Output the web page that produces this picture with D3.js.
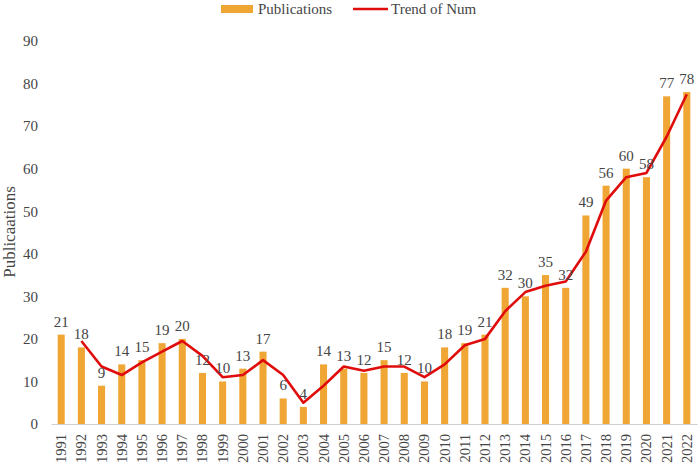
<!DOCTYPE html>
<html>
<head>
<meta charset="utf-8">
<script src="https://cdn.jsdelivr.net/npm/d3@7"></script>
<style>
body{margin:0;background:#fff;}
text{font-family:"Liberation Serif","Times New Roman",serif;fill:#454545;}
</style>
</head>
<body>
<svg id="chart" width="700" height="466"></svg>
<script>
var years=["1991","1992","1993","1994","1995","1996","1997","1998","1999","2000","2001","2002","2003","2004","2005","2006","2007","2008","2009","2010","2011","2012","2013","2014","2015","2016","2017","2018","2019","2020","2021","2022"];
var publications=[21,18,9,14,15,19,20,12,10,13,17,6,4,14,13,12,15,12,10,18,19,21,32,30,35,32,49,56,60,58,77,78];
// trend line, starts at 1992
var trendYears=years.slice(1);
var trend=[19.5,13.5,11.5,14.5,17,19.5,16,11,11.5,15,11.5,5,9,13.5,12.5,13.5,13.5,11,14,18.5,20,26.5,31,32.5,33.5,40.5,52.5,58,59,67.5,77.5];
var yTicks=[0,10,20,30,40,50,60,70,80,90];

var LEFT=51,RIGHT=697,TOP=41,BOTTOM=424;
var BARCOLOR="#F0A634",LINECOLOR="#E00C0C";
var FONTSIZE="15px";
var svg=d3.select("#chart");

var x=d3.scaleBand().domain(years).range([LEFT,RIGHT]).paddingInner(0.65).paddingOuter(0.33);
var y=d3.scaleLinear().domain([0,90]).range([BOTTOM,TOP]);

// y axis labels
var yAxis=svg.append("g")
	.attr("transform","translate("+LEFT+",0)")
	.call(d3.axisLeft(y).tickValues(yTicks).tickSize(0).tickPadding(13));
yAxis.select(".domain").remove();
yAxis.selectAll("text").style("font-size",FONTSIZE).style("font-family","Liberation Serif");

svg.append("text")
	.text("Publicaations")
	.attr("transform","translate(15,232) rotate(-90)")
	.attr("text-anchor","middle")
	.style("font-size","17px");

// bars
svg.selectAll("rect.bar")
	.data(publications)
	.enter().append("rect")
	.attr("class","bar")
	.attr("x",function(d,i){return x(years[i]);})
	.attr("width",x.bandwidth())
	.attr("y",function(d){return y(d);})
	.attr("height",function(d){return BOTTOM-y(d);})
	.attr("fill",BARCOLOR);

// x axis
var xAxis=svg.append("g")
	.attr("transform","translate(0,"+BOTTOM+")")
	.call(d3.axisBottom(x).tickSize(0).tickPadding(0));
xAxis.select(".domain").attr("stroke","#d0d0d0").attr("stroke-width",1.2);
xAxis.selectAll("text")
	.style("font-size","14.5px").style("font-family","Liberation Serif")
	.attr("text-anchor","end")
	.attr("dy",null)
	.attr("transform","translate(5,10) rotate(-90)");

// trend line
var line=d3.line()
	.x(function(d,i){return x(trendYears[i])+x.bandwidth()/2;})
	.y(function(d){return y(d);});
svg.append("path")
	.datum(trend)
	.attr("d",line)
	.attr("fill","none")
	.attr("stroke",LINECOLOR)
	.attr("stroke-width",2.6)
	.attr("stroke-linejoin","round");

// value labels
svg.selectAll("text.value")
	.data(publications)
	.enter().append("text")
	.attr("class","value")
	.text(function(d){return d;})
	.attr("x",function(d,i){return x(years[i])+x.bandwidth()/2;})
	.attr("y",function(d){return y(d)-8;})
	.attr("text-anchor","middle")
	.style("font-size",FONTSIZE);

// legend
var legend=svg.append("g");
legend.append("rect").attr("x",221).attr("y",5).attr("width",32).attr("height",8).attr("fill",BARCOLOR);
legend.append("text").text("Publications").attr("x",258).attr("y",14).style("font-size",FONTSIZE);
legend.append("line").attr("x1",353).attr("x2",388).attr("y1",9).attr("y2",9).attr("stroke",LINECOLOR).attr("stroke-width",2.6);
legend.append("text").text("Trend of Num").attr("x",391).attr("y",14).style("font-size",FONTSIZE);
</script>
</body>
</html>
